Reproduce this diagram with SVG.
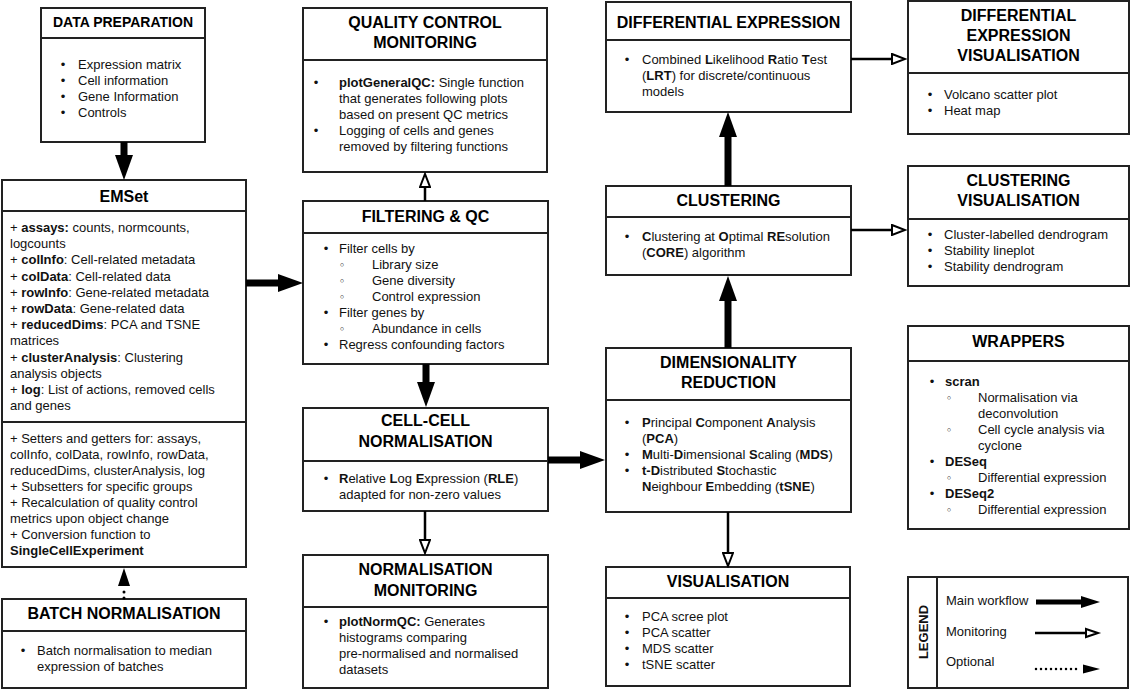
<svg xmlns="http://www.w3.org/2000/svg" width="1131" height="690" viewBox="0 0 1131 690">
<defs>
<style>
.box{fill:#fff;stroke:#222;stroke-width:2}
.dv{stroke:#222;stroke-width:2;fill:none}
.t{font-family:"Liberation Sans",Arial,sans-serif;font-size:16px;font-weight:bold;text-anchor:middle;fill:#000}
.b{font-family:"Liberation Sans",Arial,sans-serif;font-size:13px;fill:#111}
.bl{font-family:"Liberation Sans",Arial,sans-serif;font-size:13px;fill:#111;text-anchor:middle}
.sb{font-family:"DejaVu Sans",sans-serif;font-size:11px;fill:#000;text-anchor:middle}
.k{font-weight:bold}
.main{stroke:#000;stroke-width:7;fill:none;marker-end:url(#mh)}
.mon{stroke:#000;stroke-width:2.5;fill:none;marker-end:url(#oh)}
.opt{stroke:#000;stroke-width:3;fill:none;stroke-dasharray:0 6;stroke-linecap:round}
</style>
<marker id="mh" markerUnits="userSpaceOnUse" viewBox="0 0 25 18" markerWidth="25" markerHeight="18" refX="1" refY="9" orient="auto"><path d="M0,0 L25,9 L0,18 z" fill="#000"/></marker>
<marker id="oh" markerUnits="userSpaceOnUse" viewBox="-1 -1 16 12" markerWidth="16" markerHeight="12" refX="0" refY="5" orient="auto"><path d="M0,0 L13,5 L0,10 z" fill="#fff" stroke="#000" stroke-width="2"/></marker>
<marker id="dh" markerUnits="userSpaceOnUse" viewBox="0 0 18 12" markerWidth="18" markerHeight="12" refX="0" refY="6" orient="auto"><path d="M0,0 L18,6 L0,12 z" fill="#000"/></marker>
</defs>

<g id="data-preparation">
<rect class="box" x="41" y="8" width="164" height="134"/>
<line class="dv" x1="41" y1="38" x2="205" y2="38"/>
<text class="t" x="123" y="27" style="font-size:14px">DATA PREPARATION</text>
<text class="bl" x="63" y="69">•</text><text class="b" x="78" y="69">Expression matrix</text>
<text class="bl" x="63" y="85">•</text><text class="b" x="78" y="85">Cell information</text>
<text class="bl" x="63" y="101">•</text><text class="b" x="78" y="101">Gene Information</text>
<text class="bl" x="63" y="117">•</text><text class="b" x="78" y="117">Controls</text>
</g>

<g id="emset">
<rect class="box" x="2" y="180" width="244" height="387"/>
<line class="dv" x1="2" y1="211" x2="246" y2="211"/>
<line class="dv" x1="2" y1="422" x2="246" y2="422"/>
<text class="t" x="124" y="202">EMSet</text>
<text class="b" x="10" y="232">+ <tspan class="k">assays:</tspan> counts, normcounts,</text>
<text class="b" x="10" y="248.2">logcounts</text>
<text class="b" x="10" y="264.4">+ <tspan class="k">colInfo</tspan>: Cell-related metadata</text>
<text class="b" x="10" y="280.6">+ <tspan class="k">colData</tspan>: Cell-related data</text>
<text class="b" x="10" y="296.8">+ <tspan class="k">rowInfo</tspan>: Gene-related metadata</text>
<text class="b" x="10" y="313">+ <tspan class="k">rowData</tspan>: Gene-related data</text>
<text class="b" x="10" y="329.2">+ <tspan class="k">reducedDims</tspan>: PCA and TSNE</text>
<text class="b" x="10" y="345.4">matrices</text>
<text class="b" x="10" y="361.6">+ <tspan class="k">clusterAnalysis</tspan>: Clustering</text>
<text class="b" x="10" y="377.8">analysis objects</text>
<text class="b" x="10" y="394">+ <tspan class="k">log</tspan>: List of actions, removed cells</text>
<text class="b" x="10" y="410.2">and genes</text>
<text class="b" x="10" y="442.5">+ Setters and getters for: assays,</text>
<text class="b" x="10" y="458.5">colInfo, colData, rowInfo, rowData,</text>
<text class="b" x="10" y="474.5">reducedDims, clusterAnalysis, log</text>
<text class="b" x="10" y="490.5">+ Subsetters for specific groups</text>
<text class="b" x="10" y="506.5">+ Recalculation of quality control</text>
<text class="b" x="10" y="522.5">metrics upon object change</text>
<text class="b" x="10" y="538.5">+ Conversion function to</text>
<text class="b k" x="10" y="554.5">SingleCellExperiment</text>
</g>

<g id="batch-normalisation">
<rect class="box" x="2" y="599" width="244" height="89"/>
<line class="dv" x1="2" y1="631" x2="246" y2="631"/>
<text class="t" x="124" y="619">BATCH NORMALISATION</text>
<text class="bl" x="23" y="654.5">•</text><text class="b" x="37" y="654.5">Batch normalisation to median</text>
<text class="b" x="37" y="670.5">expression of batches</text>
</g>

<g id="qc-monitoring">
<rect class="box" x="303" y="8" width="244" height="164"/>
<line class="dv" x1="303" y1="60" x2="547" y2="60"/>
<text class="t" x="425" y="28">QUALITY CONTROL</text>
<text class="t" x="425" y="48">MONITORING</text>
<text class="bl" x="316" y="86.5">•</text><text class="b" x="339" y="86.5"><tspan class="k">plotGeneralQC:</tspan> Single function</text>
<text class="b" x="339" y="102.5">that generates following plots</text>
<text class="b" x="339" y="118.5">based on present QC metrics</text>
<text class="bl" x="316" y="134.5">•</text><text class="b" x="339" y="134.5">Logging of cells and genes</text>
<text class="b" x="339" y="150.5">removed by filtering functions</text>
</g>

<g id="filtering-qc">
<rect class="box" x="303" y="201" width="245" height="163"/>
<line class="dv" x1="303" y1="233" x2="548" y2="233"/>
<text class="t" x="425.5" y="221.5">FILTERING &amp; QC</text>
<text class="bl" x="326" y="253">•</text><text class="b" x="339" y="253">Filter cells by</text>
<text class="sb" x="342" y="268.5">◦</text><text class="b" x="372" y="269">Library size</text>
<text class="sb" x="342" y="284.5">◦</text><text class="b" x="372" y="285">Gene diversity</text>
<text class="sb" x="342" y="300.5">◦</text><text class="b" x="372" y="301">Control expression</text>
<text class="bl" x="326" y="317">•</text><text class="b" x="339" y="317">Filter genes by</text>
<text class="sb" x="342" y="332.5">◦</text><text class="b" x="372" y="333">Abundance in cells</text>
<text class="bl" x="326" y="349">•</text><text class="b" x="339" y="349">Regress confounding factors</text>
</g>

<g id="cell-cell-normalisation">
<rect class="box" x="303" y="408" width="245" height="103"/>
<line class="dv" x1="303" y1="461" x2="548" y2="461"/>
<text class="t" x="425.5" y="426">CELL-CELL</text>
<text class="t" x="425.5" y="447">NORMALISATION</text>
<text class="bl" x="326" y="482.5">•</text><text class="b" x="339" y="482.5"><tspan class="k">R</tspan>elative <tspan class="k">L</tspan>og <tspan class="k">E</tspan>xpression (<tspan class="k">RLE</tspan>)</text>
<text class="b" x="339" y="498.5">adapted for non-zero values</text>
</g>

<g id="normalisation-monitoring">
<rect class="box" x="303" y="555" width="245" height="133"/>
<line class="dv" x1="303" y1="607" x2="548" y2="607"/>
<text class="t" x="425.5" y="574.5">NORMALISATION</text>
<text class="t" x="425.5" y="595.5">MONITORING</text>
<text class="bl" x="326" y="626">•</text><text class="b" x="339" y="626"><tspan class="k">plotNormQC:</tspan> Generates</text>
<text class="b" x="339" y="642">histograms comparing</text>
<text class="b" x="339" y="658">pre-normalised and normalised</text>
<text class="b" x="339" y="674">datasets</text>
</g>

<g id="differential-expression">
<rect class="box" x="606" y="2" width="245" height="110"/>
<line class="dv" x1="606" y1="40" x2="851" y2="40"/>
<text class="t" x="728.5" y="27.5">DIFFERENTIAL EXPRESSION</text>
<text class="bl" x="627" y="64">•</text><text class="b" x="642" y="64">Combined <tspan class="k">L</tspan>ikelihood <tspan class="k">R</tspan>atio <tspan class="k">T</tspan>est</text>
<text class="b" x="642" y="80">(<tspan class="k">LRT</tspan>) for discrete/continuous</text>
<text class="b" x="642" y="96">models</text>
</g>

<g id="clustering">
<rect class="box" x="606" y="186" width="245" height="89"/>
<line class="dv" x1="606" y1="217" x2="851" y2="217"/>
<text class="t" x="728.5" y="205.7">CLUSTERING</text>
<text class="bl" x="627" y="241">•</text><text class="b" x="642" y="241"><tspan class="k">C</tspan>lustering at <tspan class="k">O</tspan>ptimal <tspan class="k">RE</tspan>solution</text>
<text class="b" x="642" y="257">(<tspan class="k">CORE</tspan>) algorithm</text>
</g>

<g id="dimensionality-reduction">
<rect class="box" x="606" y="348" width="245" height="164"/>
<line class="dv" x1="606" y1="400" x2="851" y2="400"/>
<text class="t" x="728.5" y="368.4">DIMENSIONALITY</text>
<text class="t" x="728.5" y="388">REDUCTION</text>
<text class="bl" x="627" y="426.5">•</text><text class="b" x="642" y="426.5"><tspan class="k">P</tspan>rincipal <tspan class="k">C</tspan>omponent <tspan class="k">A</tspan>nalysis</text>
<text class="b" x="642" y="442.5">(<tspan class="k">PCA</tspan>)</text>
<text class="bl" x="627" y="458.5">•</text><text class="b" x="642" y="458.5"><tspan class="k">M</tspan>ulti-<tspan class="k">D</tspan>imensional <tspan class="k">S</tspan>caling (<tspan class="k">MDS</tspan>)</text>
<text class="bl" x="627" y="474.5">•</text><text class="b" x="642" y="474.5"><tspan class="k">t-D</tspan>istributed <tspan class="k">S</tspan>tochastic</text>
<text class="b" x="642" y="490.5"><tspan class="k">N</tspan>eighbour <tspan class="k">E</tspan>mbedding (<tspan class="k">tSNE</tspan>)</text>
</g>

<g id="visualisation">
<rect class="box" x="606" y="567" width="244" height="119"/>
<line class="dv" x1="606" y1="598" x2="850" y2="598"/>
<text class="t" x="728" y="586.7">VISUALISATION</text>
<text class="bl" x="627" y="621">•</text><text class="b" x="642" y="621">PCA scree plot</text>
<text class="bl" x="627" y="637">•</text><text class="b" x="642" y="637">PCA scatter</text>
<text class="bl" x="627" y="653">•</text><text class="b" x="642" y="653">MDS scatter</text>
<text class="bl" x="627" y="669">•</text><text class="b" x="642" y="669">tSNE scatter</text>
</g>

<g id="de-visualisation">
<rect class="box" x="908" y="1" width="221" height="133"/>
<line class="dv" x1="908" y1="73" x2="1129" y2="73"/>
<text class="t" x="1018.5" y="20.7">DIFFERENTIAL</text>
<text class="t" x="1018.5" y="40.7">EXPRESSION</text>
<text class="t" x="1018.5" y="60.7">VISUALISATION</text>
<text class="bl" x="930" y="98.5">•</text><text class="b" x="944" y="98.5">Volcano scatter plot</text>
<text class="bl" x="930" y="114.5">•</text><text class="b" x="944" y="114.5">Heat map</text>
</g>

<g id="clustering-visualisation">
<rect class="box" x="908" y="166" width="221" height="120"/>
<line class="dv" x1="908" y1="219" x2="1129" y2="219"/>
<text class="t" x="1018.5" y="186">CLUSTERING</text>
<text class="t" x="1018.5" y="206">VISUALISATION</text>
<text class="bl" x="930" y="239">•</text><text class="b" x="944" y="239">Cluster-labelled dendrogram</text>
<text class="bl" x="930" y="255">•</text><text class="b" x="944" y="255">Stability lineplot</text>
<text class="bl" x="930" y="271">•</text><text class="b" x="944" y="271">Stability dendrogram</text>
</g>

<g id="wrappers">
<rect class="box" x="908" y="326" width="221" height="203"/>
<line class="dv" x1="908" y1="361" x2="1129" y2="361"/>
<text class="t" x="1018.5" y="347.4">WRAPPERS</text>
<text class="bl" x="932" y="386">•</text><text class="b k" x="945" y="386">scran</text>
<text class="sb" x="949" y="401.5">◦</text><text class="b" x="978" y="402">Normalisation via</text>
<text class="b" x="978" y="418">deconvolution</text>
<text class="sb" x="949" y="433.5">◦</text><text class="b" x="978" y="434">Cell cycle analysis via</text>
<text class="b" x="978" y="450">cyclone</text>
<text class="bl" x="932" y="466">•</text><text class="b k" x="945" y="466">DESeq</text>
<text class="sb" x="949" y="481.5">◦</text><text class="b" x="978" y="482">Differential expression</text>
<text class="bl" x="932" y="498">•</text><text class="b k" x="945" y="498">DESeq2</text>
<text class="sb" x="949" y="513.5">◦</text><text class="b" x="978" y="514">Differential expression</text>
</g>

<g id="legend">
<rect class="box" x="908" y="577" width="220" height="111"/>
<line class="dv" x1="937" y1="577" x2="937" y2="688"/>
<text class="b k" transform="translate(928,632) rotate(-90)" text-anchor="middle">LEGEND</text>
<text class="b" x="946" y="604.5">Main workflow</text>
<text class="b" x="946" y="635.5">Monitoring</text>
<text class="b" x="946" y="665.5">Optional</text>
<line x1="1036" y1="602" x2="1082" y2="602" stroke="#000" stroke-width="5"/>
<polygon points="1081,596 1100,602 1081,608" fill="#000"/>
<line x1="1035" y1="633" x2="1086" y2="633" stroke="#000" stroke-width="2.5"/>
<polygon points="1086,629 1098,633 1086,637" fill="#fff" stroke="#000" stroke-width="2"/>
<line x1="1036" y1="669" x2="1078" y2="669" stroke="#000" stroke-width="2.5" stroke-dasharray="0 5" stroke-linecap="round"/>
<polygon points="1083,664.5 1100,669 1083,673.5" fill="#000"/>
</g>

<g id="connectors">
<path class="main" d="M124,142 V156"/>
<path class="main" d="M246,283 H279"/>
<path class="main" d="M426,364 V383"/>
<path class="main" d="M548,460 H581"/>
<path class="main" d="M728,348 V300"/>
<path class="main" d="M728,186 V136"/>
<path class="mon" d="M425,201 V187"/>
<path class="mon" d="M425,511 V540"/>
<path class="mon" d="M728,512 V553"/>
<path class="mon" d="M851,59 H892"/>
<path class="mon" d="M851,230 H892"/>
<path class="opt" d="M124,598 V586" marker-end="url(#dh)"/>
</g>
</svg>
